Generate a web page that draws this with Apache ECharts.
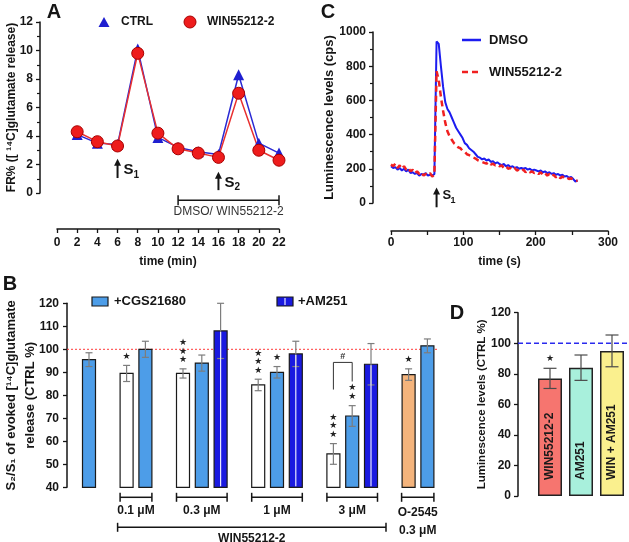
<!DOCTYPE html>
<html>
<head>
<meta charset="utf-8">
<script src="https://cdn.jsdelivr.net/npm/echarts@6/dist/echarts.min.js"></script>
<style>
  html, body { margin: 0; padding: 0; background: #fff; }
  #main { width: 629px; height: 542px; }
</style>
</head>
<body>
<div id="main"></div>
<script>
var FONT = '"Liberation Sans", Arial, sans-serif';

// ---- panel A: fractional release
var aTimes = [2, 4, 6, 8, 10, 12, 14, 16, 18, 20, 22];
var aCtrl = [4.1, 3.5, 3.4, 10.1, 3.9, 3.2, 2.9, 2.7, 8.3, 3.5, 2.8];
var aWin = [4.3, 3.6, 3.3, 9.8, 4.2, 3.1, 2.8, 2.5, 7.0, 3.0, 2.3];

// ---- panel C: luminescence traces
var cTimes = [0, 3, 6, 9, 12, 15, 18, 21, 24, 27, 30, 33, 36, 39, 42, 45, 48, 51, 54, 57, 60,
  63, 66, 69, 72, 75, 78, 81, 84, 87, 90, 93, 96, 99, 102, 105, 108, 111, 114, 117, 120,
  123, 126, 129, 132, 135, 138, 141, 144, 147, 150, 153, 156, 159, 162, 165, 168, 171, 174, 177, 180,
  183, 186, 189, 192, 195, 198, 201, 204, 207, 210, 213, 216, 219, 222, 225, 228, 231, 234, 237, 240,
  243, 246, 249, 252, 255, 258];
var cDmso = [215, 205, 210, 195, 205, 190, 200, 185, 195, 175, 180, 170, 175, 160, 170, 165, 175, 160, 165, 160, 170,
  945, 930, 800, 680, 590, 550, 530, 500, 470, 440, 420, 400, 380, 350, 340, 320, 310, 300, 285, 270,
  265, 255, 260, 248, 255, 240, 245, 232, 238, 228, 222, 228, 215, 222, 210, 215, 205, 210, 200, 205,
  200, 205, 195, 200, 190, 195, 190, 185, 190, 180, 185, 175, 180, 170, 175, 165, 170, 160, 165, 155,
  158, 148, 152, 140, 125, 132];
var cWin = [225, 215, 230, 205, 220, 200, 215, 195, 205, 185, 195, 175, 185, 170, 180, 160, 170, 165, 175, 155, 165,
  770, 720, 620, 540, 470, 420, 390, 370, 350, 340, 325, 320, 305, 300, 285, 280, 275, 265, 260, 250,
  245, 240, 235, 230, 240, 225, 230, 220, 225, 215, 220, 205, 215, 200, 205, 195, 205, 190, 195, 185,
  195, 180, 190, 180, 185, 175, 180, 170, 180, 165, 175, 160, 170, 155, 165, 150, 160, 145, 155, 145,
  150, 140, 145, 135, 130, 130];

// ---- panel B: S2/S1 ratios
var bSlots = [0, 2, 3, 5, 6, 7, 9, 10, 11, 13, 14, 15, 17, 18];
var bValues = [95.5, 89.5, 100, 89.5, 94, 108, 84.5, 90, 98, 54.5, 71, 93.5, 89, 101.5];
var bErrors = [3, 3.5, 3.5, 2, 3.5, 12, 2.5, 2.5, 5.5, 4.5, 4.5, 9, 2.5, 3];
var bKinds = ['cgs', 'win', 'cgs', 'win', 'cgs', 'am', 'win', 'cgs', 'am', 'win', 'cgs', 'am', 'o', 'cgs'];
var bStars = [0, 1, 0, 3, 0, 0, 3, 1, 0, 3, 2, 0, 1, 0];
var bGroupLabels = ['0.1 μM', '0.3 μM', '1 μM', '3 μM'];
var bGroupFrom = [2, 5, 9, 13];
var bGroupTo = [3, 7, 11, 15];

// ---- panel D: luminescence bars
var dNames = ['WIN55212-2', 'AM251', 'WIN + AM251'];
var dValues = [77, 84, 95];
var dErrors = [6.6, 8.3, 10.4];
var dStars = [1, 0, 0];

var bColors = { cgs: '#4d9de8', win: '#ffffff', am: '#1a1ae0', o: '#f4b47c' };
var dColors = ['#f6756f', '#a8f0dc', '#faf08e'];

var gridA = { left: 57, top: 22, width: 222, height: 171 };
var gridC = { left: 391, top: 32, width: 217, height: 171 };
var gridB = { left: 79.6, top: 303.3, width: 357.2, height: 184 };
var gridD = { left: 534.5, top: 312.7, width: 93, height: 183.3 };

var bSlotNames = [];
for (var k = 0; k < 19; k++) bSlotNames.push('s' + k);

var ink = '#151515';
var tickLabel = { color: ink, fontSize: 12, fontWeight: 'bold', fontFamily: FONT,
  formatter: function (v) { return String(v); } };

function valAxis(extra) {
  return Object.assign({
    type: 'value',
    splitLine: { show: false },
    axisLine: { show: true, onZero: false, lineStyle: { color: ink, width: 1.5 } },
    axisTick: { show: true, length: 4, lineStyle: { color: ink, width: 1.3 } },
    nameLocation: 'middle',
    nameMoveOverlap: false,
    nameTextStyle: { color: ink, fontSize: 12, fontWeight: 'bold', fontFamily: FONT }
  }, extra);
}

function pairs(xs, ys) {
  return xs.map(function (x, i) { return [x, ys[i]]; });
}

function renderB(params, api) {
  var i = params.dataIndex;
  var slot = api.value(0), v = api.value(1), e = api.value(2), n = api.value(3);
  var top = api.coord([slot, v]);
  var base = api.coord([slot, 40]);
  var hi = api.coord([slot, v + e]);
  var lo = api.coord([slot, v - e]);
  var w = 13, cap = 3.5, x = top[0];
  var kind = bKinds[i];
  var kids = [];
  kids.push({ type: 'rect', shape: { x: x - w / 2, y: top[1], width: w, height: base[1] - top[1] },
    style: { fill: bColors[kind], stroke: '#1a1a1a', lineWidth: 1.2 } });
  var ec = { stroke: '#7d7d7d', lineWidth: 1.2 };
  kids.push({ type: 'line', shape: { x1: x, y1: hi[1], x2: x, y2: lo[1] }, style: ec });
  kids.push({ type: 'line', shape: { x1: x - cap, y1: hi[1], x2: x + cap, y2: hi[1] }, style: ec });
  kids.push({ type: 'line', shape: { x1: x - cap, y1: lo[1], x2: x + cap, y2: lo[1] }, style: ec });
  if (kind === 'am') {
    kids.push({ type: 'line', shape: { x1: x, y1: top[1] + 1, x2: x, y2: base[1] - 1 },
      style: { stroke: '#e8e8ff', lineWidth: 1.2 } });
  }
  for (var s = 0; s < n; s++) {
    kids.push({ type: 'text', x: x, y: hi[1] - 9 - s * 8.5,
      style: { text: '★', fill: '#222', fontSize: 9, fontFamily: '"DejaVu Sans"', align: 'center', verticalAlign: 'middle' } });
  }
  return { type: 'group', children: kids };
}

function renderDErr(params, api) {
  var x0 = api.value(0), v = api.value(1), e = api.value(2), n = api.value(3);
  var hi = api.coord([x0, v + e]);
  var lo = api.coord([x0, v - e]);
  var x = hi[0], cap = 6.5;
  var ec = { stroke: '#4a4a4a', lineWidth: 1.2 };
  var kids = [
    { type: 'line', shape: { x1: x, y1: hi[1], x2: x, y2: lo[1] }, style: ec },
    { type: 'line', shape: { x1: x - cap, y1: hi[1], x2: x + cap, y2: hi[1] }, style: ec },
    { type: 'line', shape: { x1: x - cap, y1: lo[1], x2: x + cap, y2: lo[1] }, style: ec }
  ];
  for (var s = 0; s < n; s++) {
    kids.push({ type: 'text', x: x, y: hi[1] - 10 - s * 8.5,
      style: { text: '★', fill: '#222', fontSize: 9, fontFamily: '"DejaVu Sans"', align: 'center', verticalAlign: 'middle' } });
  }
  return { type: 'group', children: kids };
}

var option = {
  animation: false,
  backgroundColor: '#fff',
  textStyle: { fontFamily: FONT },
  grid: [gridA, gridC, gridB, gridD].map(function (gr) {
    return Object.assign({ outerBoundsMode: 'none' }, gr);
  }),
  xAxis: [
    valAxis({ gridIndex: 0, min: 0, max: 22, interval: 2, offset: 36,
      axisLabel: Object.assign({ margin: 8 }, tickLabel), name: 'time (min)', nameGap: 27 }),
    valAxis({ gridIndex: 1, min: 0, max: 300, interval: 100, offset: 28,
      minorTick: { show: true, splitNumber: 2, length: 4, lineStyle: { color: ink, width: 1.3 } },
      axisLabel: Object.assign({ margin: 6 }, tickLabel), name: 'time (s)', nameGap: 25 }),
    { type: 'category', gridIndex: 2, data: bSlotNames, show: false },
    { type: 'category', gridIndex: 3, data: dNames,
      axisLine: { show: false }, axisTick: { show: false }, axisLabel: { show: false } }
  ],
  yAxis: [
    valAxis({ gridIndex: 0, min: 0, max: 12, interval: 2, offset: 17,
      minorTick: { show: true, splitNumber: 2, length: 3, lineStyle: { color: ink, width: 1.2 } },
      axisLabel: Object.assign({ margin: 7 }, tickLabel),
      name: 'FR% ([ ¹⁴C]glutamate release)', nameGap: 22 }),
    valAxis({ gridIndex: 1, min: 0, max: 1000, interval: 200, offset: 18,
      minorTick: { show: true, splitNumber: 2, length: 3, lineStyle: { color: ink, width: 1.2 } },
      axisLabel: Object.assign({ margin: 7 }, tickLabel),
      name: 'Luminescence levels (cps)', nameGap: 37,
      nameTextStyle: { color: ink, fontSize: 13, fontWeight: 'bold', fontFamily: FONT } }),
    valAxis({ gridIndex: 2, min: 40, max: 120, interval: 10, offset: 12.6,
      axisLabel: Object.assign({ margin: 8 }, tickLabel),
      name: 'S₂/S₁ of evoked [¹⁴C]glutamate\nrelease (CTRL %)', nameGap: 27,
      nameTextStyle: { color: ink, fontSize: 13, fontWeight: 'bold', fontFamily: FONT, lineHeight: 19 } }),
    valAxis({ gridIndex: 3, min: 0, max: 120, interval: 20, offset: 16.5,
      axisLabel: Object.assign({ margin: 7 }, tickLabel),
      name: 'Luminescence levels (CTRL %)', nameGap: 30,
      nameTextStyle: { color: ink, fontSize: 11.5, fontWeight: 'bold', fontFamily: FONT } })
  ],
  series: [
    { name: 'CTRL', type: 'line', xAxisIndex: 0, yAxisIndex: 0, data: pairs(aTimes, aCtrl),
      symbol: 'triangle', symbolSize: 11,
      lineStyle: { color: '#2a2ad4', width: 1.5 }, itemStyle: { color: '#1f1fd0' } },
    { name: 'WIN55212-2', type: 'line', xAxisIndex: 0, yAxisIndex: 0, data: pairs(aTimes, aWin),
      symbol: 'circle', symbolSize: 12,
      lineStyle: { color: '#e83030', width: 1.5 },
      itemStyle: { color: '#ee1c1c', borderColor: '#a80000', borderWidth: 1 } },
    { name: 'DMSO', type: 'line', xAxisIndex: 1, yAxisIndex: 1, data: pairs(cTimes, cDmso),
      showSymbol: false, lineStyle: { color: '#1c1cf0', width: 2 } },
    { name: 'WIN55212-2 trace', type: 'line', xAxisIndex: 1, yAxisIndex: 1, data: pairs(cTimes, cWin),
      showSymbol: false, lineStyle: { color: '#f02020', width: 2.5, type: [6, 4] } },
    { name: 'B bars', type: 'custom', xAxisIndex: 2, yAxisIndex: 2, z: 3,
      data: bSlots.map(function (s, i) { return [s, bValues[i], bErrors[i], bStars[i]]; }),
      renderItem: renderB },
    { name: 'D bars', type: 'bar', xAxisIndex: 3, yAxisIndex: 3, barWidth: 24,
      data: dValues.map(function (v, i) {
        return { value: v, itemStyle: { color: dColors[i], borderColor: '#222', borderWidth: 1.5 } };
      }),
      label: { show: true, position: 'insideBottom', distance: 16, rotate: 90, align: 'left',
        verticalAlign: 'middle', formatter: '{b}', color: '#1a1a1a', fontSize: 12,
        fontWeight: 'bold', fontFamily: FONT } },
    { name: 'D errors', type: 'custom', xAxisIndex: 3, yAxisIndex: 3, z: 4,
      data: dValues.map(function (v, i) { return [i, v, dErrors[i], dStars[i]]; }),
      renderItem: renderDErr }
  ]
};

var chart = echarts.init(document.getElementById('main'));
chart.setOption(option);

// ---- annotations
function P(grid, pt) { return chart.convertToPixel({ gridIndex: grid }, pt); }
function label(x, y, text, size, opts) {
  opts = opts || {};
  return { type: 'text', x: x, y: y, rotation: opts.rotation || 0, z: 10,
    style: { text: text, fill: opts.color || ink, fontSize: size, fontWeight: opts.weight || 'bold',
      fontFamily: opts.family || FONT, align: opts.align || 'center', verticalAlign: 'middle' } };
}
function seg(x1, y1, x2, y2, opts) {
  opts = opts || {};
  return { type: 'line', z: opts.z || 10, shape: { x1: x1, y1: y1, x2: x2, y2: y2 },
    style: { stroke: opts.color || ink, lineWidth: opts.width || 1.5, lineDash: opts.dash || null } };
}
function arrow(x, yTip, yBot) {
  return [seg(x, yTip + 5, x, yBot, { width: 2 }),
    { type: 'polygon', z: 10, shape: { points: [[x, yTip], [x - 3.5, yTip + 7], [x + 3.5, yTip + 7]] },
      style: { fill: ink } }];
}
function bracket(x1, x2, y, h) {
  return [seg(x1, y, x2, y), seg(x1, y - h, x1, y + h), seg(x2, y - h, x2, y + h)];
}

var g = [];
// panel letters
g.push(label(54, 12, 'A', 20));
g.push(label(328, 12, 'C', 20));
g.push(label(10, 284, 'B', 20));
g.push(label(457, 313, 'D', 20));

// A legend
g.push({ type: 'polygon', z: 10, shape: { points: [[104, 17], [98.5, 27], [109.5, 27]] }, style: { fill: '#1f1fd0' } });
g.push(label(121, 22, 'CTRL', 12, { align: 'left' }));
g.push({ type: 'circle', z: 10, shape: { cx: 190, cy: 22, r: 6 }, style: { fill: '#ee1c1c', stroke: '#a80000', lineWidth: 1 } });
g.push(label(207, 22, 'WIN55212-2', 12, { align: 'left' }));

// A arrows and bracket
var t1 = P(0, [6, 2.4]), b1 = P(0, [6, 1.05]);
g = g.concat(arrow(t1[0], t1[1], b1[1]));
g.push(label(t1[0] + 6, t1[1] + 11, 'S', 15, { align: 'left' }));
g.push(label(t1[0] + 16, t1[1] + 16, '1', 10, { align: 'left' }));
var t2 = P(0, [16, 1.5]), b2 = P(0, [16, 0.2]);
g = g.concat(arrow(t2[0], t2[1], b2[1]));
g.push(label(t2[0] + 6, t2[1] + 11, 'S', 15, { align: 'left' }));
g.push(label(t2[0] + 16, t2[1] + 16, '2', 10, { align: 'left' }));
var bl = P(0, [12, -0.5]), br = P(0, [22, -0.5]);
g = g.concat(bracket(bl[0], br[0], bl[1], 5));
g.push(label((bl[0] + br[0]) / 2, bl[1] + 12, 'DMSO/ WIN55212-2', 12, { weight: 'normal', color: '#333' }));

// C legend and arrow
g.push(seg(462, 40, 481, 40, { color: '#1c1cf0', width: 2.5 }));
g.push(label(489, 40, 'DMSO', 13, { align: 'left' }));
g.push(seg(462, 72, 481, 72, { color: '#f02020', width: 2.5, dash: [6, 4] }));
g.push(label(489, 72, 'WIN55212-2', 13, { align: 'left' }));
var t3 = P(1, [63, 90]), b3 = P(1, [63, -25]);
g = g.concat(arrow(t3[0], t3[1], b3[1]));
g.push(label(t3[0] + 6, t3[1] + 8, 'S', 13, { align: 'left' }));
g.push(label(t3[0] + 14, t3[1] + 13, '1', 9, { align: 'left' }));

// B reference line, legend, brackets
var r100 = P(2, [0, 100]);
g.push(seg(gridB.left - 12.6, r100[1], gridB.left + gridB.width + 2, r100[1],
  { color: '#ff3b3b', width: 1, dash: [2, 2], z: 1 }));
g.push({ type: 'rect', z: 10, shape: { x: 92, y: 297, width: 16, height: 9 }, style: { fill: bColors.cgs, stroke: '#1a1a1a', lineWidth: 1.2 } });
g.push(label(114, 301.5, '+CGS21680', 13, { align: 'left' }));
g.push({ type: 'rect', z: 10, shape: { x: 277, y: 297, width: 16, height: 9 }, style: { fill: bColors.am, stroke: '#1a1a1a', lineWidth: 1.2 } });
g.push(seg(285, 298, 285, 305, { color: '#e8e8ff', width: 1.2 }));
g.push(label(298, 301.5, '+AM251', 13, { align: 'left' }));

var base40 = P(2, [0, 40])[1];
for (var j = 0; j < bGroupLabels.length; j++) {
  var gx1 = P(2, [bGroupFrom[j], 40])[0] - 6.5, gx2 = P(2, [bGroupTo[j], 40])[0] + 6.5;
  g = g.concat(bracket(gx1, gx2, base40 + 10, 4.5));
  g.push(label((gx1 + gx2) / 2, base40 + 23, bGroupLabels[j], 12));
}
var wx1 = P(2, [2, 40])[0] - 9, wx2 = P(2, [15, 40])[0] + 15;
g = g.concat(bracket(wx1, wx2, base40 + 40, 4.5));
g.push(label((wx1 + wx2) / 2, base40 + 51, 'WIN55212-2', 12));
var ox1 = P(2, [17, 40])[0] - 7, ox2 = P(2, [18, 40])[0] + 6.5;
g = g.concat(bracket(ox1, ox2, base40 + 10, 4.5));
g.push(label((ox1 + ox2) / 2, base40 + 25, 'O-2545', 12));
g.push(label((ox1 + ox2) / 2, base40 + 43, '0.3 μM', 12));

var h1 = P(2, [13, 94.3]), h2 = P(2, [14, 94.3]);
var hl = P(2, [13, 82.5]), hr = P(2, [14, 86]);
g.push(seg(h1[0], h1[1], h2[0], h2[1], { width: 1, color: '#333' }));
g.push(seg(h1[0], h1[1], hl[0], hl[1], { width: 1, color: '#333' }));
g.push(seg(h2[0], h2[1], hr[0], hr[1], { width: 1, color: '#333' }));
g.push(label((h1[0] + h2[0]) / 2, h1[1] - 6, '#', 9, { color: '#333' }));

// D reference line
var d100 = P(3, [0, 100]);
g.push(seg(gridD.left - 16.5, d100[1], 629, d100[1], { color: '#2a2aee', width: 1.5, dash: [5, 3], z: 1 }));

chart.setOption({ graphic: { elements: g } });
</script>
</body>
</html>
